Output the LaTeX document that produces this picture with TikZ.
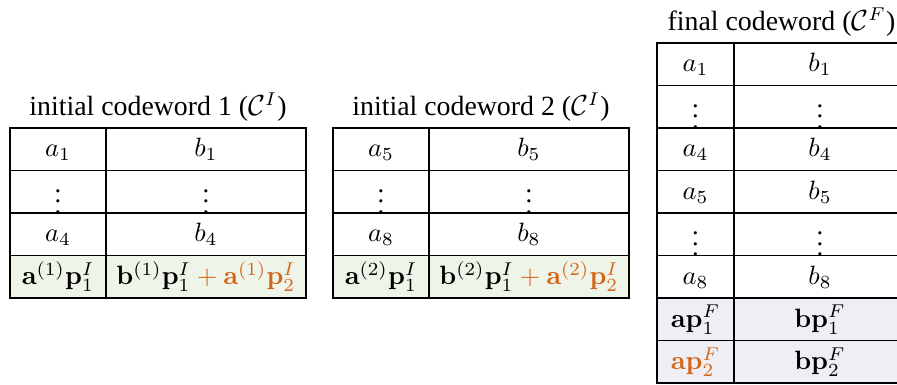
\documentclass[tikz,border=0pt]{standalone}
\usepackage[no-math]{fontspec}
\setmainfont{Liberation Serif}
\definecolor{orng}{HTML}{D4661A}
\definecolor{gfill}{HTML}{EFF4E8}
\definecolor{pfill}{HTML}{EEEEF4}
\begin{document}
\begin{tikzpicture}[x=0.3774pt,y=-0.3774pt,
  grid/.style={draw=black, line width=0.5pt},
  txt/.style={anchor=base, inner sep=0pt, font=\fontsize{10}{12}\selectfont},
  dts/.style={anchor=center, inner sep=0pt, font=\fontsize{10}{12}\selectfont},
  ttl/.style={anchor=base, inner sep=0pt, font=\fontsize{10.5}{12}\selectfont}]
\useasboundingbox (0,0) rectangle (897,385);
\clip (0,0) rectangle (897,385);
% ---------- table 1
\fill[gfill] (10,255.5) rectangle (306,298);
\draw[grid] (10,128) rectangle (306,298);
\draw[grid] (10,170.5) -- (306,170.5) (10,213) -- (306,213) (10,255.5) -- (306,255.5)
            (106,128) -- (106,298);
\node[ttl] (title1) at (158,116) {initial codeword 1 ($\mathcal{C}^I$)};
\node[txt] (ta1) at (58,157) {$a_1$};
\node[txt] (tb1) at (206,157) {$b_1$};
\node[dts] (ta2) at (58,193.5) {$\vdots$};
\node[dts] (tb2) at (206,193.5) {$\vdots$};
\node[txt] (ta3) at (58,242) {$a_4$};
\node[txt] (tb3) at (206,242) {$b_4$};
\node[txt] (ta4) at (58,285) {$\mathbf{a}^{(1)}\mathbf{p}_1^I$};
\node[txt] (tb4) at (206,285) {$\mathbf{b}^{(1)}\mathbf{p}_1^I\textcolor{orng}{{}+\mathbf{a}^{(1)}\mathbf{p}_2^I}$};
% ---------- table 2
\fill[gfill] (333,255.5) rectangle (629,298);
\draw[grid] (333,128) rectangle (629,298);
\draw[grid] (333,170.5) -- (629,170.5) (333,213) -- (629,213) (333,255.5) -- (629,255.5)
            (429,128) -- (429,298);
\node[ttl] (title2) at (481,116) {initial codeword 2 ($\mathcal{C}^I$)};
\node[txt] (ua1) at (381,157) {$a_5$};
\node[txt] (ub1) at (529,157) {$b_5$};
\node[dts] (ua2) at (381,193.5) {$\vdots$};
\node[dts] (ub2) at (529,193.5) {$\vdots$};
\node[txt] (ua3) at (381,242) {$a_8$};
\node[txt] (ub3) at (529,242) {$b_8$};
\node[txt] (ua4) at (381,285) {$\mathbf{a}^{(2)}\mathbf{p}_1^I$};
\node[txt] (ub4) at (529,285) {$\mathbf{b}^{(2)}\mathbf{p}_1^I\textcolor{orng}{{}+\mathbf{a}^{(2)}\mathbf{p}_2^I}$};
% ---------- table 3
\fill[pfill] (657,298) rectangle (906,383);
\draw[grid] (657,43) rectangle (906,383);
\draw[grid] (657,85.5) -- (906,85.5) (657,128) -- (906,128) (657,170.5) -- (906,170.5)
            (657,213) -- (906,213) (657,255.5) -- (906,255.5) (657,298) -- (906,298)
            (657,340.5) -- (906,340.5) (734,43) -- (734,383);
\node[ttl] (title3) at (781.5,31) {final codeword ($\mathcal{C}^F$)};
\node[txt] (va1) at (695.5,72) {$a_1$};
\node[txt] (vb1) at (820,72) {$b_1$};
\node[dts] (va2) at (695.5,108.5) {$\vdots$};
\node[dts] (vb2) at (820,108.5) {$\vdots$};
\node[txt] (va3) at (695.5,157) {$a_4$};
\node[txt] (vb3) at (820,157) {$b_4$};
\node[txt] (va4) at (695.5,199.5) {$a_5$};
\node[txt] (vb4) at (820,199.5) {$b_5$};
\node[dts] (va5) at (695.5,236) {$\vdots$};
\node[dts] (vb5) at (820,236) {$\vdots$};
\node[txt] (va6) at (695.5,284.5) {$a_8$};
\node[txt] (vb6) at (820,284.5) {$b_8$};
\node[txt] (va7) at (695.5,327.5) {$\mathbf{a}\mathbf{p}_1^F$};
\node[txt] (vb7) at (820,327.5) {$\mathbf{b}\mathbf{p}_1^F$};
\node[txt] (va8) at (695.5,370) {$\textcolor{orng}{\mathbf{a}\mathbf{p}_2^F}$};
\node[txt] (vb8) at (820,370) {$\mathbf{b}\mathbf{p}_2^F$};
\end{tikzpicture}
\end{document}
